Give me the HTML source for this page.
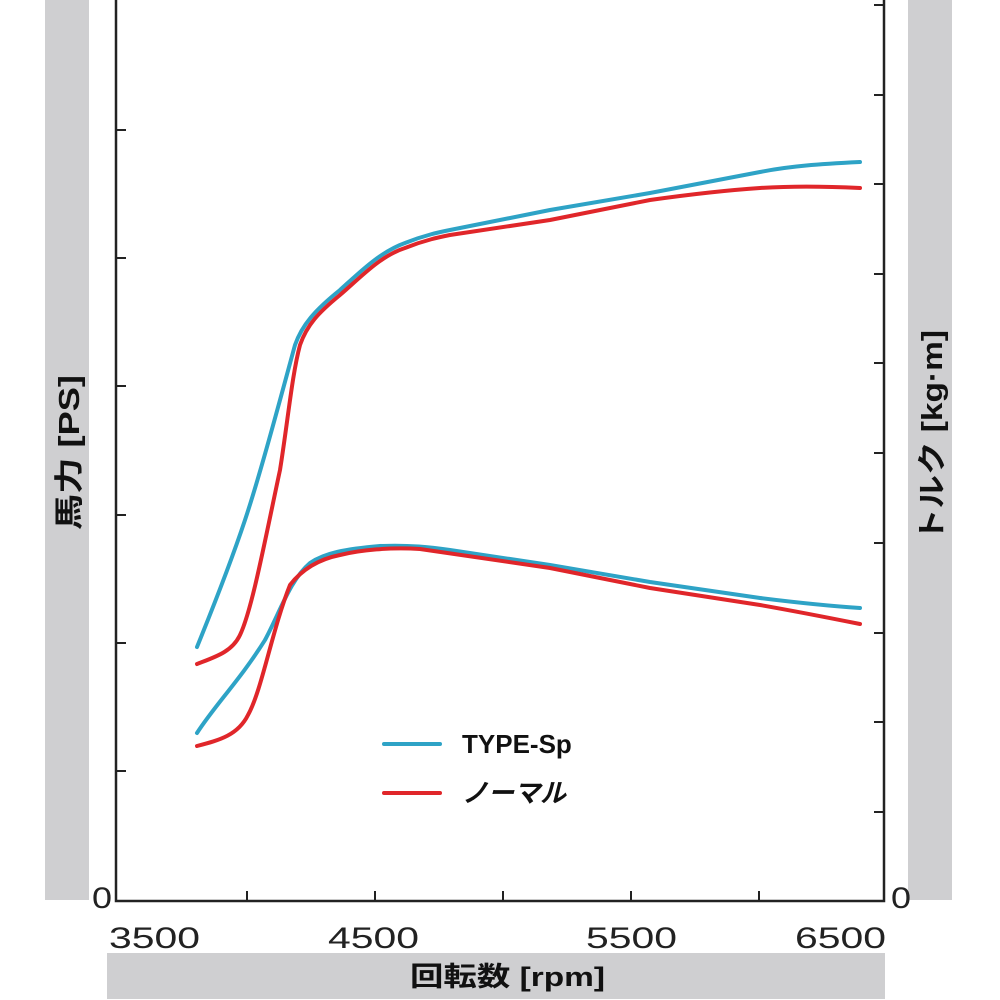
<!DOCTYPE html>
<html><head><meta charset="utf-8"><style>
html,body{margin:0;padding:0;background:#fff;}
svg{display:block;}
text{font-family:"Liberation Sans","Noto Sans CJK JP",sans-serif;}
</style></head><body>
<svg width="1000" height="1000" viewBox="0 0 1000 1000" xmlns="http://www.w3.org/2000/svg">
<rect x="45" y="0" width="44" height="900" fill="#cfcfd1"/>
<rect x="908" y="0" width="44" height="900" fill="#cfcfd1"/>
<rect x="107" y="953" width="778" height="46" fill="#cfcfd1"/>
<g stroke="#222" stroke-width="2.5" fill="none">
<path d="M116 0 V901 H884 V0"/>
</g>
<g stroke="#222" stroke-width="2">
<path d="M247 901v-10M375 901v-10M503 901v-10M631 901v-10M759 901v-10"/>
<path d="M116 130h10M116 258h10M116 386h10M116 515h10M116 643h10M116 771h10"/>
<path d="M884 5h-10M884 95h-10M884 184h-10M884 274h-10M884 363h-10M884 453h-10M884 543h-10M884 633h-10M884 722h-10M884 812h-10"/>
</g>
<g font-size="30" fill="#222">
<text x="92" y="908" textLength="20" lengthAdjust="spacingAndGlyphs">0</text>
<text x="891" y="908" textLength="20" lengthAdjust="spacingAndGlyphs">0</text>
<text x="109" y="948" textLength="91" lengthAdjust="spacingAndGlyphs">3500</text>
<text x="328" y="948" textLength="91" lengthAdjust="spacingAndGlyphs">4500</text>
<text x="586" y="948" textLength="91" lengthAdjust="spacingAndGlyphs">5500</text>
<text x="795" y="948" textLength="91" lengthAdjust="spacingAndGlyphs">6500</text>
</g>
<text x="410" y="986" font-size="27" font-weight="bold" fill="#111" textLength="195" lengthAdjust="spacingAndGlyphs">回転数 [rpm]</text>
<text transform="translate(79,530) rotate(-90)" font-size="29" font-weight="bold" fill="#111" textLength="155" lengthAdjust="spacingAndGlyphs">馬力 [PS]</text>
<text transform="translate(942,542) rotate(-90)" font-size="29" font-weight="bold" fill="#111" textLength="212" lengthAdjust="spacingAndGlyphs">トルク [kg·m]</text>
<g fill="none" stroke-width="4" stroke-linecap="round" stroke-linejoin="round">
<path stroke="#2ea3c6" d="M197 647 C210 615 230 565 245 520 C260 475 280 400 295 345 C302 325 315 310 340 290 C360 272 380 252 405 243 C425 235 440 232 450 230 L550 210 L650 193 L760 172 C790 166 820 164 860 162"/>
<path stroke="#e0262a" d="M197 664 C215 657 232 652 240 635 C252 610 265 540 280 470 C288 420 292 375 300 345 C307 325 318 313 340 295 C360 278 380 256 405 248 C425 240 440 237 450 235 L550 220 L650 200 C700 193 730 190 760 188 C790 186 820 186 860 188"/>
<path stroke="#2ea3c6" d="M197 733 C215 705 240 680 265 640 C280 612 290 580 310 563 C325 553 345 549 380 546 C410 545 430 547 450 550 L550 565 L650 582 L760 598 C800 603 830 606 860 608"/>
<path stroke="#e0262a" d="M197 746 C220 740 238 735 248 715 C262 690 272 630 290 585 C300 572 315 560 340 555 C360 550 390 547 420 549 L550 568 L650 588 L760 605 C800 612 830 618 860 624"/>
<path stroke="#2ea3c6" d="M384 744 H440"/>
<path stroke="#e0262a" d="M384 793 H440"/>
</g>
<text x="462" y="753" font-size="26" font-weight="bold" fill="#111">TYPE-Sp</text>
<text x="462" y="802" font-size="26" font-weight="bold" font-style="italic" fill="#111">ノーマル</text>
</svg>
</body></html>
